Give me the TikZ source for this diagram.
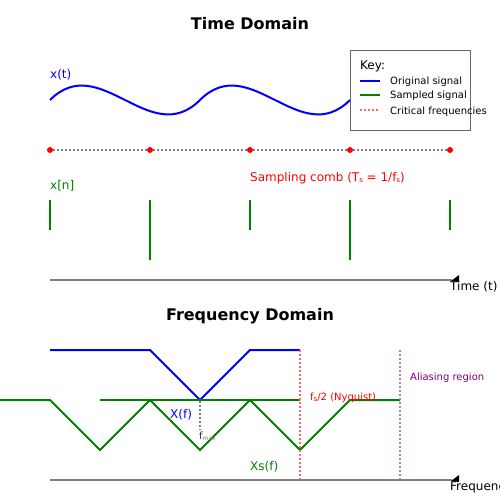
\documentclass[tikz,border=0pt]{standalone}
\usepackage{fontspec}
\setmainfont{DejaVu Sans}
\definecolor{sgreen}{HTML}{008000}
\definecolor{sblue}{HTML}{0000FF}
\definecolor{sgray}{HTML}{808080}
\definecolor{spurple}{HTML}{800080}
\definecolor{lred}{HTML}{FF6666}
\definecolor{lpurple}{HTML}{BF7FBF}
\newcommand{\sbs}[1]{\raisebox{-0.3ex}{\fontsize{7}{7}\selectfont #1}}
\begin{document}
\begin{tikzpicture}[x=1pt,y=-1pt,
  lbl/.style={inner sep=0pt, anchor=base west, font=\fontsize{12}{12}\selectfont},
  small/.style={inner sep=0pt, anchor=base west, font=\fontsize{10}{10}\selectfont},
  title/.style={inner sep=0pt, anchor=base, font=\fontsize{16}{16}\selectfont\bfseries},
  sig/.style={line width=2pt, line join=miter},
  axisline/.style={sgray, line width=2pt},
  tip/.style={fill=black},
  crit/.style={lred, line width=1.5pt, dash pattern=on 2pt off 2pt},
  alias/.style={lpurple, line width=1.5pt, dash pattern=on 2pt off 2pt},
  comb/.style={sgray, line width=1.5pt, dash pattern=on 2pt off 2pt},
  sdot/.style={circle, fill=red, inner sep=0pt, minimum size=6pt},
  stem/.style={sgreen, line width=2pt}]
\useasboundingbox (0,0) rectangle (500,500);
\fill[white] (0,0) rectangle (500,500);

% ---------- Time domain ----------
\node[title] (ttitle) at (250,30) {Time Domain};
\node[lbl, sblue] (xt) at (50,79) {x(t)};
\draw[sig, sblue] (50,100) .. controls (100,50) and (150,150) .. (200,100)
  .. controls (250,50) and (300,150) .. (350,100);

% sampling comb
\foreach \i/\x in {0/50,1/150,2/250,3/350,4/450}
  \node[sdot] (d\i) at (\x,150) {};
\draw[comb] (d0) -- (d1);
\draw[comb] (d1) -- (d2);
\draw[comb] (d2) -- (d3);
\draw[comb] (d3) -- (d4);
\node[lbl, red] (combl) at (250,181) {Sampling comb (T\sbs{s} = 1/f\sbs{s})};

% sampled signal
\node[lbl, sgreen] (xn) at (50,189) {x[n]};
\foreach \i/\x/\b in {0/50/230,1/150/260,2/250/230,3/350/260,4/450/230}{
  \coordinate (s\i a) at (\x,200);
  \coordinate (s\i b) at (\x,\b);
  \draw[stem] (s\i a) -- (s\i b);
}

% time axis
\coordinate (ta0) at (50,280);
\coordinate (ta1) at (452,280);
\draw[axisline] (ta0) -- (ta1);
\fill[tip] (451,281) -- (459,275) -- (459,282) -- cycle;
\node[lbl] (tlab) at (450,290) {Time (t)};

% legend
\node[draw=black!60, line width=1pt, fill=white, minimum width=120pt, minimum height=80pt,
  inner sep=0pt, anchor=north west] (key) at (350,50) {};
\node[lbl] (keyt) at (360,70) {Key:};
\draw[sblue, line width=2pt] (360,81) -- (380,81);
\node[small] (k1) at (390,85) {Original signal};
\draw[sgreen, line width=2pt] (360,95) -- (380,95);
\node[small] (k2) at (390,99) {Sampled signal};
\draw[crit] (360,110) -- (380,110);
\node[small] (k3) at (390,114) {Critical frequencies};

% ---------- Frequency domain ----------
\node[title] (ftitle) at (250,320) {Frequency Domain};

\draw[sig, sblue] (50,350) -- (150,350) -- (200,400) -- (250,350) -- (300,350);
\draw[sig, sgreen] (0,400) -- (50,400) -- (100,450) -- (150,400) -- (200,450)
  -- (250,400) -- (300,450) -- (350,400) -- (400,400);
\draw[sig, sgreen] (100,400) -- (300,400);

\coordinate (fm0) at (200,401);
\coordinate (fm1) at (200,430);
\draw[sgray, line width=1.5pt, dash pattern=on 2pt off 2pt] (fm0) -- (fm1);
\node[small, black!80] (fmax) at (199,439) {f{\color{sgray}\raisebox{-0.3ex}{\fontsize{6}{6}\selectfont max}}};
\node[lbl, sblue] (xf) at (170,418) {X(f)};

\coordinate (ny0) at (300,350);
\coordinate (ny1) at (300,480);
\draw[crit] (ny0) -- (ny1);
\node[small, red] (nyq) at (310,400) {f\sbs{s}/2 (Nyquist)};

\coordinate (al0) at (400,350);
\coordinate (al1) at (400,480);
\draw[alias] (al0) -- (al1);
\node[small, spurple] (alr) at (410,380) {Aliasing region};

\node[lbl, sgreen] (xsf) at (250,470) {Xs(f)};

\coordinate (fa0) at (50,480);
\coordinate (fa1) at (452,480);
\draw[axisline] (fa0) -- (fa1);
\fill[tip] (451,481) -- (459,475) -- (459,482) -- cycle;
\node[lbl] (flab) at (450,490) {Frequency (f)};
\end{tikzpicture}
\end{document}
